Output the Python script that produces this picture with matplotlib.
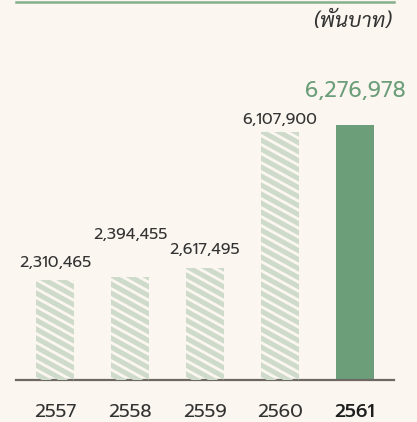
import matplotlib
matplotlib.use('Agg')
import matplotlib.pyplot as plt
import numpy as np

# data
years = ['2557', '2558', '2559', '2560', '2561']
values = [2310465, 2394455, 2617495, 6107900, 6276978]
unit_label = '(พันบาท)'

# style
bg = '#fbf6f0'
green = '#6b9e79'
stripe = '#cedbca'
num_font = 'Prompt'
# vertical offsets (pixels) of the value labels above each bar top
label_offset = [17, 42, 18, 12, 34]

axis_floor = -249000
y_top = 9426000

fig = plt.figure(figsize=(4.17, 4.22), dpi=100, facecolor=bg)
ax = fig.add_axes([16 / 417, 42 / 422, 378 / 417, 378 / 422])
ax.set_facecolor(bg)

x = np.arange(len(values))
vals = np.array(values)
bars = ax.bar(x, vals - axis_floor, bottom=axis_floor, width=38 / 75,
              color=[bg] * 4 + [green], edgecolor='none', zorder=2)
ax.set_xlim(-0.52, 4.52)
ax.set_ylim(axis_floor, y_top)

# diagonal stripes in the first four bars
fig.canvas.draw()
slope = 0.55
period = 9
for b in bars[:4]:
    bb = b.get_window_extent()
    for y0 in np.arange(bb.y0 - 30, bb.y1 + 40, period):
        line = plt.Line2D([bb.x0 - 5, bb.x1 + 5],
                          [y0 + slope * 5, y0 - slope * (bb.width + 5)],
                          color=stripe, lw=3.6, transform=None, zorder=3,
                          solid_capstyle='butt')
        line.set_clip_path(b)
        fig.add_artist(line)

# spines
for s in ['left', 'right']:
    ax.spines[s].set_visible(False)
ax.spines['bottom'].set_color('#6d6862')
ax.spines['bottom'].set_linewidth(1.6)
ax.spines['bottom'].set_zorder(5)
ax.spines['top'].set_color('#85b08c')
ax.spines['top'].set_linewidth(1.8)
ax.set_yticks([])
ax.set_xticks(x)
ax.set_xticklabels(years, fontfamily=num_font, fontsize=13.5,
                   fontweight='normal', color='#333333')
ax.tick_params(axis='x', length=0, pad=17)
ax.get_xticklabels()[-1].set_fontweight('medium')
ax.get_xticklabels()[-1].set_color('#1e1e1e')

# value labels
for i, v in enumerate(values):
    last = i == len(values) - 1
    ax.annotate(f'{v:,}', (x[i], v), xytext=(0, label_offset[i] * 0.72),
                textcoords='offset points', ha='center', va='center',
                fontfamily=num_font, fontsize=15.5 if last else 11.5,
                fontweight='normal',
                color=green if last else '#333333', zorder=6)

fig.text(392 / 417, 1 - 22 / 422, unit_label, ha='right', va='center',
         fontfamily='Sarabun', fontstyle='italic', fontweight='normal',
         fontsize=15, color='#333333')

fig.savefig('out.png', dpi=100, facecolor=bg)
